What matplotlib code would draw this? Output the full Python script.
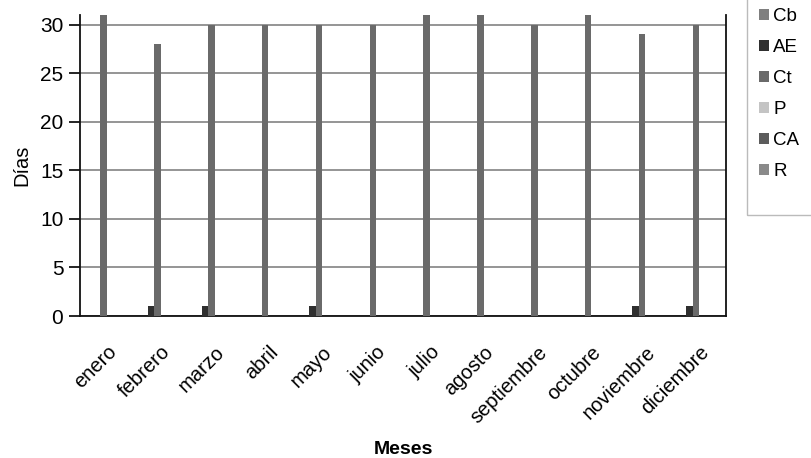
import numpy as np
import matplotlib.pyplot as plt
from matplotlib.patches import Rectangle

plt.rcParams['font.family'] = ['Liberation Sans', 'DejaVu Sans']

meses = ['enero', 'febrero', 'marzo', 'abril', 'mayo', 'junio', 'julio',
         'agosto', 'septiembre', 'octubre', 'noviembre', 'diciembre']

# días por mes para cada categoría
Cb = [0, 0, 0, 0, 0, 0, 0, 0, 0, 0, 0, 0]
AE = [0, 1, 1, 0, 1, 0, 0, 0, 0, 0, 1, 1]
Ct = [31, 28, 30, 30, 30, 30, 31, 31, 30, 31, 29, 30]
P = [0, 0, 0, 0, 0, 0, 0, 0, 0, 0, 0, 0]
CA = [0, 0, 0, 0, 0, 0, 0, 0, 0, 0, 0, 0]
R = [0, 0, 0, 0, 0, 0, 0, 0, 0, 0, 0, 0]

series = [('Cb', Cb, '#7f7f7f'), ('AE', AE, '#2f2f2f'), ('Ct', Ct, '#6a6a6a'),
          ('P', P, '#c4c4c4'), ('CA', CA, '#5c5c5c'), ('R', R, '#8a8a8a')]

fig = plt.figure(figsize=(8.11, 4.58), dpi=100)
ax = fig.add_axes([80/811, 1 - 316/458, (726 - 80)/811, (316 - 15)/458])

x = np.arange(len(meses))
w = 0.12
for i, (name, vals, col) in enumerate(series):
    ax.bar(x + (i - 2.5) * w, vals, w, color=col, label=name, zorder=3)

ax.set_xlim(-0.5, len(meses) - 0.5)
ax.set_ylim(0, 31)
ax.set_yticks(range(0, 31, 5))
ax.yaxis.grid(True, color='#8c8c8c', linewidth=1.3, zorder=0)

for s in ['left', 'bottom', 'right']:
    ax.spines[s].set_color('#111111')
    ax.spines[s].set_linewidth(1.3)
ax.spines['top'].set_visible(False)

ax.set_xticks(x)
ax.set_xticklabels(meses, rotation=45, ha='right', rotation_mode='anchor', fontsize=14.5)
ax.tick_params(axis='x', length=0, pad=19)
ax.tick_params(axis='y', labelsize=15, length=8, width=1.2, pad=4)

ax.set_ylabel('Días', fontsize=14.5, labelpad=6)
ax.set_xlabel('Meses', fontsize=14, fontweight='bold')
ax.xaxis.set_label_coords(0.5, -0.415)

# caja de la leyenda, más alta que sus entradas
fig.patches.append(Rectangle((747/811, 1 - 215/458), 0.2, 0.6,
                             transform=fig.transFigure, fill=False,
                             edgecolor='#bbbbbb', linewidth=1.0))
fig.legend(loc='upper left', bbox_to_anchor=(744/811, 1.015), fontsize=13.5,
           frameon=False, handlelength=0.55, handleheight=0.55, handletextpad=0.2,
           labelspacing=0.75, borderpad=0.8, borderaxespad=0)

fig.savefig('out.png', dpi=100)
